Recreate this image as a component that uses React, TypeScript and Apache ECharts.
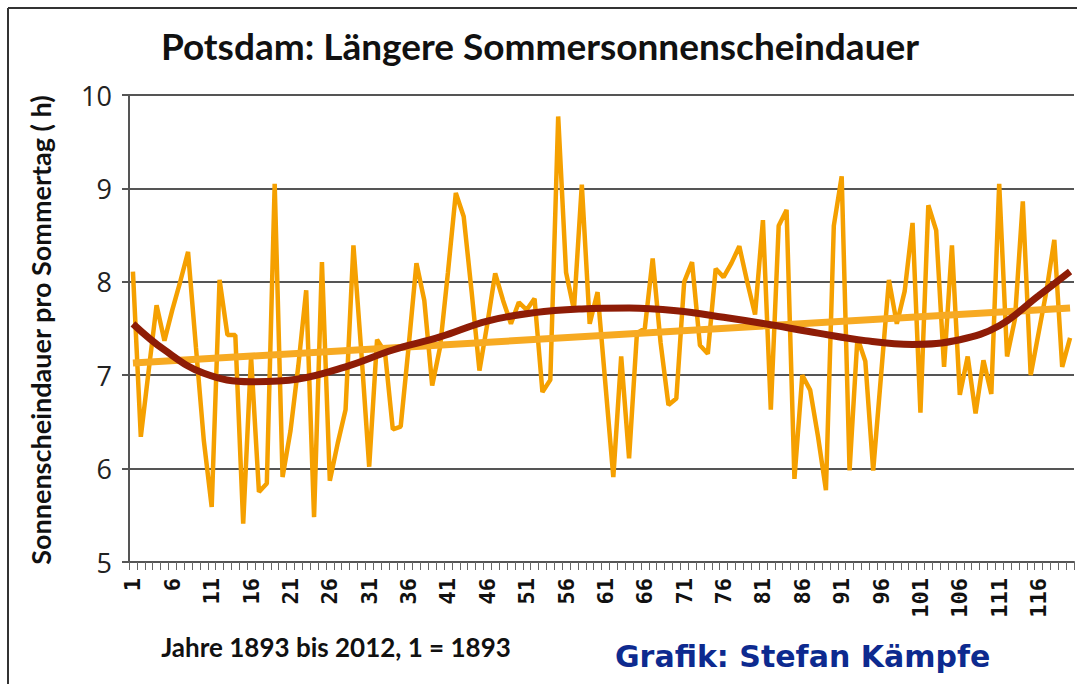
import React, { useEffect, useRef } from "react";
import * as echarts from "echarts";

const years: string[] = Array.from({ length: 120 }, (_, i) => String(i + 1));

const sunshine: number[] = [
  8.11, 6.34, 7.05, 7.75, 7.37, 7.7, 8.0, 8.32, 7.3, 6.3,
  5.59, 8.02, 7.43, 7.43, 5.41, 7.2, 5.75, 5.84, 9.05, 5.91,
  6.4, 7.1, 7.91, 5.48, 8.21, 5.87, 6.27, 6.63, 8.39, 7.25,
  6.02, 7.38, 7.25, 6.42, 6.45, 7.3, 8.2, 7.8, 6.89, 7.3,
  8.1, 8.95, 8.7, 7.9, 7.05, 7.55, 8.09, 7.8, 7.55, 7.78,
  7.7, 7.82, 6.82, 6.95, 9.77, 8.1, 7.7, 9.04, 7.55, 7.89,
  6.9, 5.91, 7.2, 6.11, 7.45, 7.5, 8.25, 7.35, 6.68, 6.75,
  8.0, 8.21, 7.32, 7.23, 8.14, 8.05, 8.2, 8.38, 8.0, 7.65,
  8.66, 6.63, 8.6, 8.77, 5.89, 7.0, 6.84, 6.34, 5.77, 8.6,
  9.13, 5.98, 7.4, 7.15, 5.98, 7.0, 8.02, 7.55, 7.9, 8.63,
  6.6, 8.82, 8.55, 7.09, 8.39, 6.79, 7.2, 6.59, 7.16, 6.8,
  9.05, 7.2, 7.6, 8.86, 7.0, 7.45, 7.9, 8.45, 7.09, 7.4,
];

// linear trend: endpoints
const linearTrendX: number[] = [1, 120];
const linearTrendY: number[] = [7.13, 7.72];

// polynomial trend: points
const polyTrendX: number[] = [1, 5, 10, 16, 22, 28, 34, 40, 46, 52, 58, 64, 70, 76, 82, 88, 94, 100, 106, 111, 116, 120];
const polyTrendY: number[] = [7.55, 7.27, 7.02, 6.93, 6.96, 7.09, 7.27, 7.41, 7.58, 7.67, 7.71, 7.72, 7.69, 7.62, 7.54, 7.45, 7.37, 7.33, 7.38, 7.53, 7.85, 8.11];

const yTicks: number[] = [5, 6, 7, 8, 9, 10];

const titleText = "Potsdam: Längere Sommersonnenscheindauer";
const yAxisTitle = "Sonnenscheindauer pro Sommertag ( h)";
const xAxisNote = "Jahre 1893 bis 2012, 1 = 1893";
const creditText = "Grafik: Stefan Kämpfe";

export default function App() {
  const ref = useRef<HTMLDivElement>(null);

  useEffect(() => {
    if (!ref.current) return;
    const chart = echarts.init(ref.current, undefined, { renderer: "svg" });
    const option: any = {
      animation: false,
      backgroundColor: "#ffffff",
      grid: { left: 129, right: 3, top: 95, bottom: 122, containLabel: false },
      xAxis: [
        {
          type: "category",
          data: years,
          boundaryGap: true,
          axisLine: { show: true, lineStyle: { color: "#555", width: 2 } },
          axisTick: { show: true, interval: 0, length: 8, lineStyle: { color: "#666", width: 1 } },
          axisLabel: {
            interval: 4,
            rotate: 90,
            margin: 16,
            fontSize: 22,
            fontWeight: "bold",
            fontFamily: "DejaVu Sans Mono",
            color: "#111",
          },
          splitLine: { show: false },
        },
        {
          type: "value",
          min: 0.5,
          max: 120.5,
          show: false,
        },
      ],
      yAxis: {
        type: "value",
        min: yTicks[0],
        max: yTicks[yTicks.length - 1],
        interval: 1,
        axisLine: { show: true, lineStyle: { color: "#555", width: 2 } },
        axisTick: { show: true, inside: false, length: 7, lineStyle: { color: "#555", width: 2 } },
        axisLabel: {
          margin: 17,
          fontSize: 27,
          fontFamily: "Open Sans",
          color: "#222",
        },
        splitLine: { show: true, lineStyle: { color: "#555", width: 2 } },
      },
      series: [
        {
          type: "line",
          name: "Sonnenscheindauer",
          data: sunshine,
          xAxisIndex: 0,
          symbol: "none",
          lineStyle: { color: "#F5A000", width: 4.5 },
          z: 2,
        },
        {
          type: "line",
          name: "Linearer Trend",
          data: linearTrendX.map((x, i) => [x, linearTrendY[i]]),
          xAxisIndex: 1,
          symbol: "none",
          lineStyle: { color: "#F7AA22", width: 7 },
          z: 3,
        },
        {
          type: "line",
          name: "Polynomischer Trend",
          data: polyTrendX.map((x, i) => [x, polyTrendY[i]]),
          xAxisIndex: 1,
          symbol: "none",
          smooth: 0.4,
          lineStyle: { color: "#8E1C06", width: 7 },
          z: 4,
        },
      ],
      graphic: [
        {
          type: "line",
          shape: { x1: 8, y1: 8, x2: 1077, y2: 8 },
          style: { stroke: "#333", lineWidth: 2 },
        },
        {
          type: "line",
          shape: { x1: 8, y1: 8, x2: 8, y2: 684 },
          style: { stroke: "#333", lineWidth: 2 },
        },
        {
          type: "text",
          x: 540,
          y: 45,
          style: {
            text: titleText,
            font: "bold 37px Lato",
            fill: "#111",
            textAlign: "center",
            textVerticalAlign: "middle",
            align: "center",
            verticalAlign: "middle",
          },
        },
        {
          type: "text",
          x: 40,
          y: 330,
          rotation: Math.PI / 2,
          style: {
            text: yAxisTitle,
            font: "bold 27px Lato",
            fill: "#111",
            textAlign: "center",
            textVerticalAlign: "middle",
            align: "center",
            verticalAlign: "middle",
          },
        },
        {
          type: "text",
          x: 336,
          y: 647,
          style: {
            text: xAxisNote,
            font: "bold 26px Lato",
            fill: "#111",
            textAlign: "center",
            textVerticalAlign: "middle",
            align: "center",
            verticalAlign: "middle",
          },
        },
        {
          type: "text",
          x: 615,
          y: 656,
          style: {
            text: creditText,
            font: "bold 30px 'DejaVu Sans'",
            fill: "#0d2a8f",
            textAlign: "left",
            textVerticalAlign: "middle",
            align: "left",
            verticalAlign: "middle",
          },
        },
      ],
    };
    chart.setOption(option);
    return () => chart.dispose();
  }, []);

  return (
    <div
      ref={ref}
      style={{ position: "fixed", left: 0, top: 0, width: 1077, height: 684, background: "#fff" }}
    />
  );
}
